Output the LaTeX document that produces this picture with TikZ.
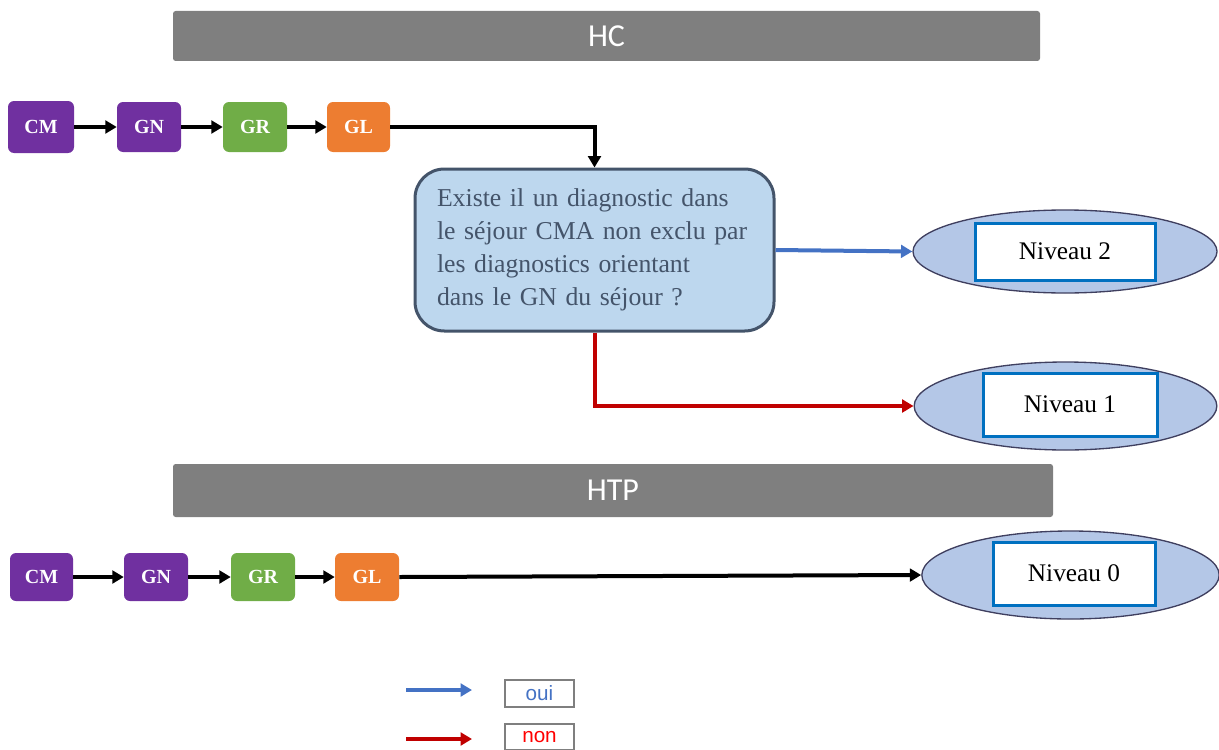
\documentclass[tikz,border=0pt]{standalone}
\usepackage{fontspec}
\setmainfont{Liberation Serif}
\newfontfamily\hcfont{Carlito}
\newfontfamily\legfont{Liberation Sans}
\usetikzlibrary{arrows.meta,shapes.geometric}
\definecolor{cpurple}{HTML}{7030A0}
\definecolor{cgreen}{HTML}{70AD47}
\definecolor{corange}{HTML}{ED7D31}
\definecolor{cbar}{HTML}{7F7F7F}
\definecolor{cdecfill}{HTML}{BDD7EE}
\definecolor{cdecline}{HTML}{44546A}
\definecolor{cellfill}{HTML}{B4C7E7}
\definecolor{cellline}{HTML}{3F3F5F}
\definecolor{crect}{HTML}{0070C0}
\definecolor{cblue}{HTML}{4472C4}
\definecolor{cred}{HTML}{C00000}
\tikzset{
  gbox/.style={rounded corners=4.5pt, text=white, font=\bfseries\fontsize{15}{17}\selectfont, inner sep=0pt},
  bar/.style={fill=cbar, rounded corners=2pt, text=white, font=\hcfont\fontsize{24}{28}\selectfont, inner sep=0pt},
  arr/.style={line width=3pt, -{Triangle[length=8.5pt,width=9.5pt]}},
  ell/.style={ellipse, draw=cellline, fill=cellfill, line width=1pt, inner sep=0pt},
  lvl/.style={draw=crect, fill=white, line width=2.25pt, inner sep=0pt, font=\fontsize{19}{22}\selectfont},
  legbox/.style={draw=cbar, line width=0.8pt, fill=white, inner sep=0pt, minimum width=51.75pt, font=\legfont\fontsize{15.5}{17}\selectfont},
}
\begin{document}
\begin{tikzpicture}[x=0.75pt,y=-0.75pt]
\useasboundingbox (0,0) rectangle (1219,749);
\begin{scope}
\clip (0,0) rectangle (1219,749);
% bars
\node[bar, minimum width=650.25pt, minimum height=37.5pt] (hc) at (606.5,36) {HC};
\node[bar, minimum width=660pt, minimum height=39.75pt] (htp) at (613,490.5) {HTP};
% top row
\node[gbox, fill=cpurple, minimum width=49.5pt, minimum height=39pt] (cm1) at (41,127) {CM};
\node[gbox, fill=cpurple, minimum width=48pt, minimum height=37.5pt] (gn1) at (149,127) {GN};
\node[gbox, fill=cgreen, minimum width=48pt, minimum height=37.5pt] (gr1) at (255,127) {GR};
\node[gbox, fill=corange, minimum width=47.25pt, minimum height=37.5pt] (gl1) at (358.5,127) {GL};
\draw[arr] (cm1) -- (gn1);
\draw[arr] (gn1) -- (gr1);
\draw[arr] (gr1) -- (gl1);
% decision
\node[draw=cdecline, fill=cdecfill, line width=2.25pt, rounded corners=22pt,
      minimum width=269.25pt, minimum height=121.5pt, inner xsep=16.5pt,
      text width=236.25pt, align=left, text=cdecline,
      font=\fontsize{19.3}{24.75}\selectfont] (dec) at (594.5,250)
  {Existe il un diagnostic dans\\le séjour CMA non exclu par\\les diagnostics orientant\\dans le GN du séjour ?};
\draw[arr] (gl1.east) -| (dec.north);
% ellipses
\node[ell, minimum width=228pt, minimum height=62.25pt] (n2) at (1065,251.5) {};
\node[lvl, minimum width=135pt, minimum height=42.75pt] (r2) at (1065,251.5) {Niveau 2};
\node[ell, minimum width=227pt, minimum height=66pt] (n1) at (1065.5,406) {};
\node[lvl, minimum width=130.5pt, minimum height=47.25pt] (r1) at (1070,404.5) {Niveau 1};
\node[ell, minimum width=223pt, minimum height=66pt] (n0) at (1070.5,575) {};
\node[lvl, minimum width=121.5pt, minimum height=47.25pt] (r0) at (1074,573.5) {Niveau 0};
\draw[arr, cblue] (dec.east) -- (n2.west);
\draw[arr, cred] (dec.south) |- (n1.west);
% bottom row
\node[gbox, fill=cpurple, minimum width=47.25pt, minimum height=36pt] (cm2) at (41.5,577) {CM};
\node[gbox, fill=cpurple, minimum width=48pt, minimum height=36pt] (gn2) at (156,577) {GN};
\node[gbox, fill=cgreen, minimum width=48pt, minimum height=36pt] (gr2) at (263,577) {GR};
\node[gbox, fill=corange, minimum width=48pt, minimum height=36pt] (gl2) at (367,577) {GL};
\draw[arr] (cm2) -- (gn2);
\draw[arr] (gn2) -- (gr2);
\draw[arr] (gr2) -- (gl2);
\draw[arr] (gl2.east) -- (n0.west);
% legend
\coordinate (lb1) at (406,690);
\coordinate (lb2) at (472,690);
\coordinate (lr1) at (406,739);
\coordinate (lr2) at (472,739);
\draw[arr, cblue] (lb1) -- (lb2);
\draw[arr, cred] (lr1) -- (lr2);
\node[legbox, minimum height=20.25pt, text=cblue] (oui) at (539.5,693.5) {oui};
\node[legbox, minimum height=19.5pt, text=red] (non) at (539.5,737) {non};
\end{scope}
\end{tikzpicture}
\end{document}
